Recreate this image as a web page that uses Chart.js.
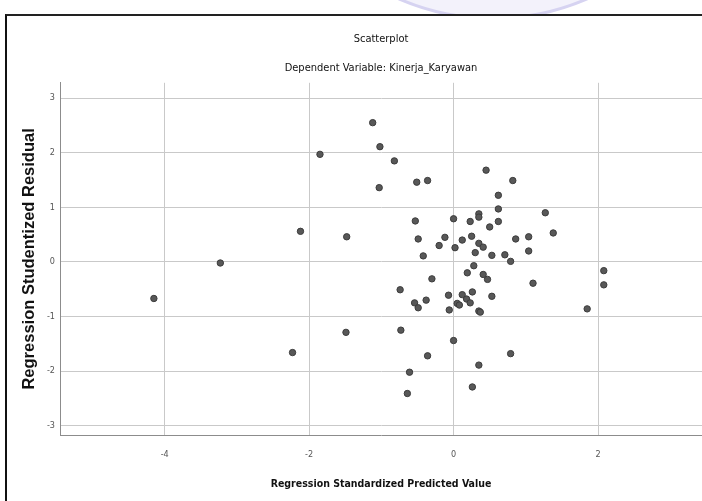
<!DOCTYPE html>
<html>
<head>
<meta charset="utf-8">
<script src="https://cdn.jsdelivr.net/npm/chart.js@4.4.0/dist/chart.umd.min.js"></script>
<style>
  html, body { margin: 0; padding: 0; background: #fff; overflow: hidden; }
  body { width: 702px; height: 501px; position: relative; }
  .mark { position: absolute; left: 250px; top: -480px; width: 480px; height: 494px;
          border-radius: 50%; background: #f3f2fb; border: 3px solid #d6d3f1; }
  .frame { position: absolute; left: 5px; top: 14px; width: 760px; height: 520px;
           border-left: 2px solid #111; border-top: 2px solid #222; background: #fff; }
  #wrap { position: absolute; left: 0; top: 0; }
</style>
</head>
<body>
<div class="mark"></div>
<div class="frame"></div>
<div id="wrap"><canvas id="scatter" width="760" height="501"></canvas></div>
<script>
// predicted value (x) and studentized residual (y)
var predicted = [
  -4.15, -3.23, -2.23, -2.12, -1.85, -1.48, -1.49, -1.12, -1.02, -0.82,
  -1.03, -0.51, -0.36, -0.53, -0.49, -0.42, -0.74, -0.73, -0.61, -0.64,
  -0.36, 0.00, 0.35, 0.26, 0.79, 0.45, 0.82, 0.62, 0.62, 1.27,
  0.00, 0.23, 0.35, 0.35, 0.62, 0.50, 1.38, -0.12, 0.12, 0.25,
  -0.20, 0.02, 0.35, 0.41, 0.86, 1.04, 1.04, 0.30, 0.53, 0.71,
  0.79, 0.28, 0.19, 0.41, -0.30, 0.47, 1.10, -0.07, 0.12, 0.26,
  0.18, 0.23, 0.53, -0.38, -0.54, -0.49, 0.05, 0.08, -0.06, 0.35,
  0.37, 2.08, 2.08, 1.85
];
var residual = [
  -0.67, -0.02, -1.66, 0.56, 1.97, 0.46, -1.29, 2.55, 2.11, 1.85,
  1.36, 1.46, 1.49, 0.75, 0.42, 0.11, -0.51, -1.25, -2.02, -2.41,
  -1.72, -1.44, -1.89, -2.29, -1.68, 1.68, 1.49, 1.22, 0.97, 0.90,
  0.79, 0.74, 0.88, 0.82, 0.74, 0.64, 0.53, 0.45, 0.40, 0.47,
  0.30, 0.26, 0.34, 0.27, 0.42, 0.46, 0.20, 0.17, 0.12, 0.13,
  0.01, -0.07, -0.20, -0.23, -0.31, -0.32, -0.39, -0.61, -0.60, -0.55,
  -0.68, -0.75, -0.63, -0.70, -0.75, -0.84, -0.76, -0.79, -0.88, -0.90,
  -0.92, -0.16, -0.42, -0.86
];
var xTicks = [-4, -2, 0, 2];
var yTicks = [-3, -2, -1, 0, 1, 2, 3];

var narrow = "'Liberation Sans Narrow', 'Arial Narrow', 'DejaVu Sans Condensed', sans-serif";

var points = predicted.map(function (x, i) {
    return { x: x, y: residual[i] };
});

var ctx = document.getElementById('scatter').getContext('2d');
var chart = new Chart(ctx, {
    type: 'scatter',
    data: {
        datasets: [{
            data: points,
            backgroundColor: 'rgb(88, 88, 88)',
            borderColor: 'rgb(60, 60, 60)',
            borderWidth: 1,
            pointRadius: 3.2
        }]
    },
    options: {
        responsive: false,
        animation: false,
        layout: { padding: { left: 0, right: 58, top: 0, bottom: 0 } },
        plugins: {
            legend: { display: false },
            tooltip: { enabled: false },
            title: {
                display: true,
                fullSize: false, // centre over the plot, not the canvas
                text: 'Scatterplot',
                color: '#111',
                font: { family: narrow, size: 11, weight: 'normal', lineHeight: 1.2 },
                padding: { top: 33, bottom: 15 }
            },
            subtitle: {
                display: true,
                fullSize: false,
                text: 'Dependent Variable: Kinerja_Karyawan',
                color: '#111',
                font: { family: narrow, size: 11, weight: 'normal', lineHeight: 1.2 },
                padding: { top: 0, bottom: 8.4 }
            }
        },
        scales: {
            x: {
                type: 'linear',
                min: -5.45,
                max: 3.44,
                afterBuildTicks: function (scale) {
                    scale.ticks = xTicks.map(function (v) { return { value: v }; });
                },
                afterFit: function (scale) { scale.height = 66; },
                grid: { color: '#c9c9c9', drawTicks: false },
                border: { color: '#8c8c8c' },
                ticks: {
                    padding: 14,
                    color: '#555',
                    font: { family: narrow, size: 9 }
                },
                title: {
                    display: true,
                    text: 'Regression Standardized Predicted Value',
                    color: '#111',
                    font: { family: narrow, size: 10.5, weight: 'bold', lineHeight: 1.2 },
                    padding: { top: 0, bottom: 10.7 }
                }
            },
            y: {
                type: 'linear',
                min: -3.17,
                max: 3.28,
                afterBuildTicks: function (scale) {
                    scale.ticks = yTicks.map(function (v) { return { value: v }; });
                },
                afterFit: function (scale) { scale.width = 60; },
                grid: { color: '#c9c9c9', drawTicks: false },
                border: { color: '#8c8c8c' },
                ticks: {
                    padding: 5,
                    color: '#555',
                    font: { family: narrow, size: 9 }
                },
                title: {
                    display: true,
                    text: 'Regression Studentized Residual',
                    color: '#111',
                    font: { family: "'Liberation Sans', Arial, sans-serif", size: 16.5, weight: 'bold', lineHeight: 1.2 },
                    padding: { top: 20, bottom: 0 }
                }
            }
        }
    }
});
</script>
</body>
</html>
